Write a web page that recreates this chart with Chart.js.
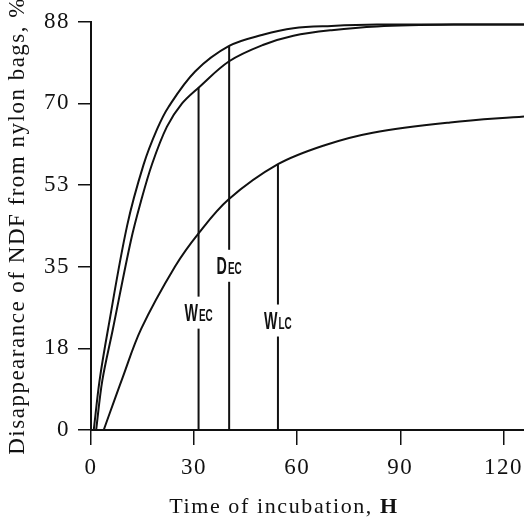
<!doctype html>
<html>

<head>
    <title>Disappearance of NDF</title>
    <script src="https://cdn.jsdelivr.net/npm/chart.js"></script>
    <style>
        body {
            margin: 0;
            background-color: #fff;
        }
    </style>
</head>

<body>
    <canvas id="grafico" width="524" height="523"></canvas>

    <script>
        // curvas (tempo em h, desaparecimento em %)
        var decTempo = [0.8, 2.5, 4.9, 10.5, 15.3, 19.2, 22.6, 30.3, 40.2, 50, 58.9, 70, 83.2, 105.5, 126];
        var decValor = [0, 10.7, 21.5, 44, 57.2, 64.8, 69.7, 77.3, 82.8, 85.2, 86.6, 87.1, 87.4, 87.4, 87.4];

        var wecTempo = [1.5, 3.3, 6.3, 11.6, 14.5, 17.8, 22.1, 26.5, 31.3, 40.2, 50, 58.9, 70, 83.2, 105.5, 126];
        var wecValor = [0, 10.7, 21.5, 40.8, 49.2, 57.4, 65.4, 70.4, 73.8, 79.5, 83.0, 85.0, 86.2, 87.0, 87.4, 87.4];

        var wlcTempo = [3.7, 9.2, 14.6, 24.5, 31.3, 40, 54.4, 68, 82, 104.5, 126];
        var wlcValor = [0, 11.3, 21.8, 35.3, 42.4, 49.7, 57.3, 61.4, 64.1, 66.3, 67.6];

        // linhas verticais com rotulo
        var marcaNome = ['WEC', 'DEC', 'WLC'];
        var marcaTempo = [31.3, 40.2, 54.4];
        var marcaTopo = [73.8, 82.8, 57.3];
        var marcaRotuloY = [25.3, 35.4, 23.6];

        var xTicks = [0, 30, 60, 90, 120];
        var yTicks = [0, 17.6, 35.2, 52.8, 70.4, 88];
        var tituloX = ['Time of incubation, ', 'H'];

        function pontos(tempo, valor) {
            return tempo.map((t, i) => ({ x: t, y: valor[i] }));
        }

        var datasets = [
            { data: pontos(decTempo, decValor), tension: 0.35 },
            { data: pontos(wecTempo, wecValor), tension: 0.35 },
            { data: pontos(wlcTempo, wlcValor), tension: 0.35 }
        ];
        marcaTempo.forEach((t, i) => {
            datasets.push({ data: [{ x: t, y: 0 }, { x: t, y: marcaTopo[i] }], tension: 0 });
        });
        datasets.forEach((d) => {
            d.borderColor = '#111';
            d.borderWidth = 2;
            d.pointRadius = 0;
            d.fill = false;
        });

        var espacamento = {
            id: 'espacamento',
            beforeDraw(chart) {
                chart.ctx.letterSpacing = '1.5px';
            }
        };

        var rotulos = {
            id: 'rotulos',
            afterDatasetsDraw(chart) {
                var ctx = chart.ctx;
                var x = chart.scales.x;
                var y = chart.scales.y;
                var sx = 0.62;
                ctx.save();
                ctx.letterSpacing = '0px';
                marcaNome.forEach((nome, i) => {
                    var px = x.getPixelForValue(marcaTempo[i]);
                    var py = y.getPixelForValue(marcaRotuloY[i]);
                    ctx.font = 'bold 23px "Liberation Sans"';
                    var w1 = ctx.measureText(nome[0]).width * sx;
                    ctx.font = 'bold 16px "Liberation Sans"';
                    var w2 = ctx.measureText(nome.slice(1)).width * sx;
                    var w = w1 + w2 + 1;
                    ctx.fillStyle = '#fff';
                    ctx.fillRect(px - w / 2 - 3, py - 16, w + 6, 32);
                    ctx.fillStyle = '#111';
                    ctx.textAlign = 'left';
                    ctx.textBaseline = 'alphabetic';
                    ctx.save();
                    ctx.translate(px - w / 2, py + 8);
                    ctx.scale(sx, 1);
                    ctx.font = 'bold 23px "Liberation Sans"';
                    ctx.fillText(nome[0], 0, 0);
                    ctx.font = 'bold 16px "Liberation Sans"';
                    ctx.fillText(nome.slice(1), (w1 + 1) / sx, 0);
                    ctx.restore();
                });
                ctx.restore();
            }
        };

        // titulo do eixo x, um pouco a esquerda do centro como no original
        var tituloEixoX = {
            id: 'tituloEixoX',
            afterDraw(chart) {
                var ctx = chart.ctx;
                ctx.save();
                ctx.letterSpacing = '1.6px';
                ctx.fillStyle = '#111';
                ctx.textAlign = 'left';
                ctx.textBaseline = 'middle';
                ctx.font = '22px "Liberation Serif"';
                var w1 = ctx.measureText(tituloX[0]).width;
                ctx.font = 'bold 22px "Liberation Serif"';
                var w2 = ctx.measureText(tituloX[1]).width;
                var x0 = chart.chartArea.left + 193 - (w1 + w2) / 2;
                var y0 = chart.chartArea.bottom + 77;
                ctx.font = '22px "Liberation Serif"';
                ctx.fillText(tituloX[0], x0, y0);
                ctx.font = 'bold 22px "Liberation Serif"';
                ctx.fillText(tituloX[1], x0 + w1, y0);
                ctx.restore();
            }
        };

        var grafico = new Chart(document.getElementById('grafico'), {
            type: 'line',
            data: { datasets: datasets },
            plugins: [espacamento, rotulos, tituloEixoX],
            options: {
                responsive: false,
                animation: false,
                layout: { padding: { top: 20, right: 0, left: 0, bottom: 0 } },
                plugins: {
                    legend: { display: false },
                    tooltip: { enabled: false }
                },
                scales: {
                    x: {
                        type: 'linear',
                        min: 0,
                        max: 126,
                        afterFit: (scale) => {
                            scale.height = 93;
                            scale.paddingLeft = 0;
                            scale.paddingRight = 0;
                        },
                        afterBuildTicks: (scale) => { scale.ticks = xTicks.map((v) => ({ value: v })); },
                        ticks: {
                            color: '#111',
                            padding: 9,
                            maxRotation: 0,
                            font: { family: 'Liberation Serif', size: 23 }
                        },
                        grid: { drawOnChartArea: false, tickLength: 15, color: '#111', lineWidth: 1.5 },
                        border: { color: '#111', width: 2 }
                    },
                    y: {
                        min: 0,
                        max: 88,
                        afterFit: (scale) => { scale.width = 91; },
                        afterBuildTicks: (scale) => { scale.ticks = yTicks.map((v) => ({ value: v })); },
                        ticks: {
                            color: '#111',
                            padding: 8,
                            font: { family: 'Liberation Serif', size: 23 },
                            callback: (v) => Math.round(v)
                        },
                        grid: { drawOnChartArea: false, tickLength: 13, color: '#111', lineWidth: 1.5 },
                        border: { color: '#111', width: 2 },
                        title: {
                            display: true,
                            text: 'Disappearance of NDF from nylon bags, %',
                            color: '#111',
                            font: { family: 'Liberation Serif', size: 23 },
                            padding: { top: 4, bottom: 4 }
                        }
                    }
                }
            }
        });
    </script>
</body>

</html>
